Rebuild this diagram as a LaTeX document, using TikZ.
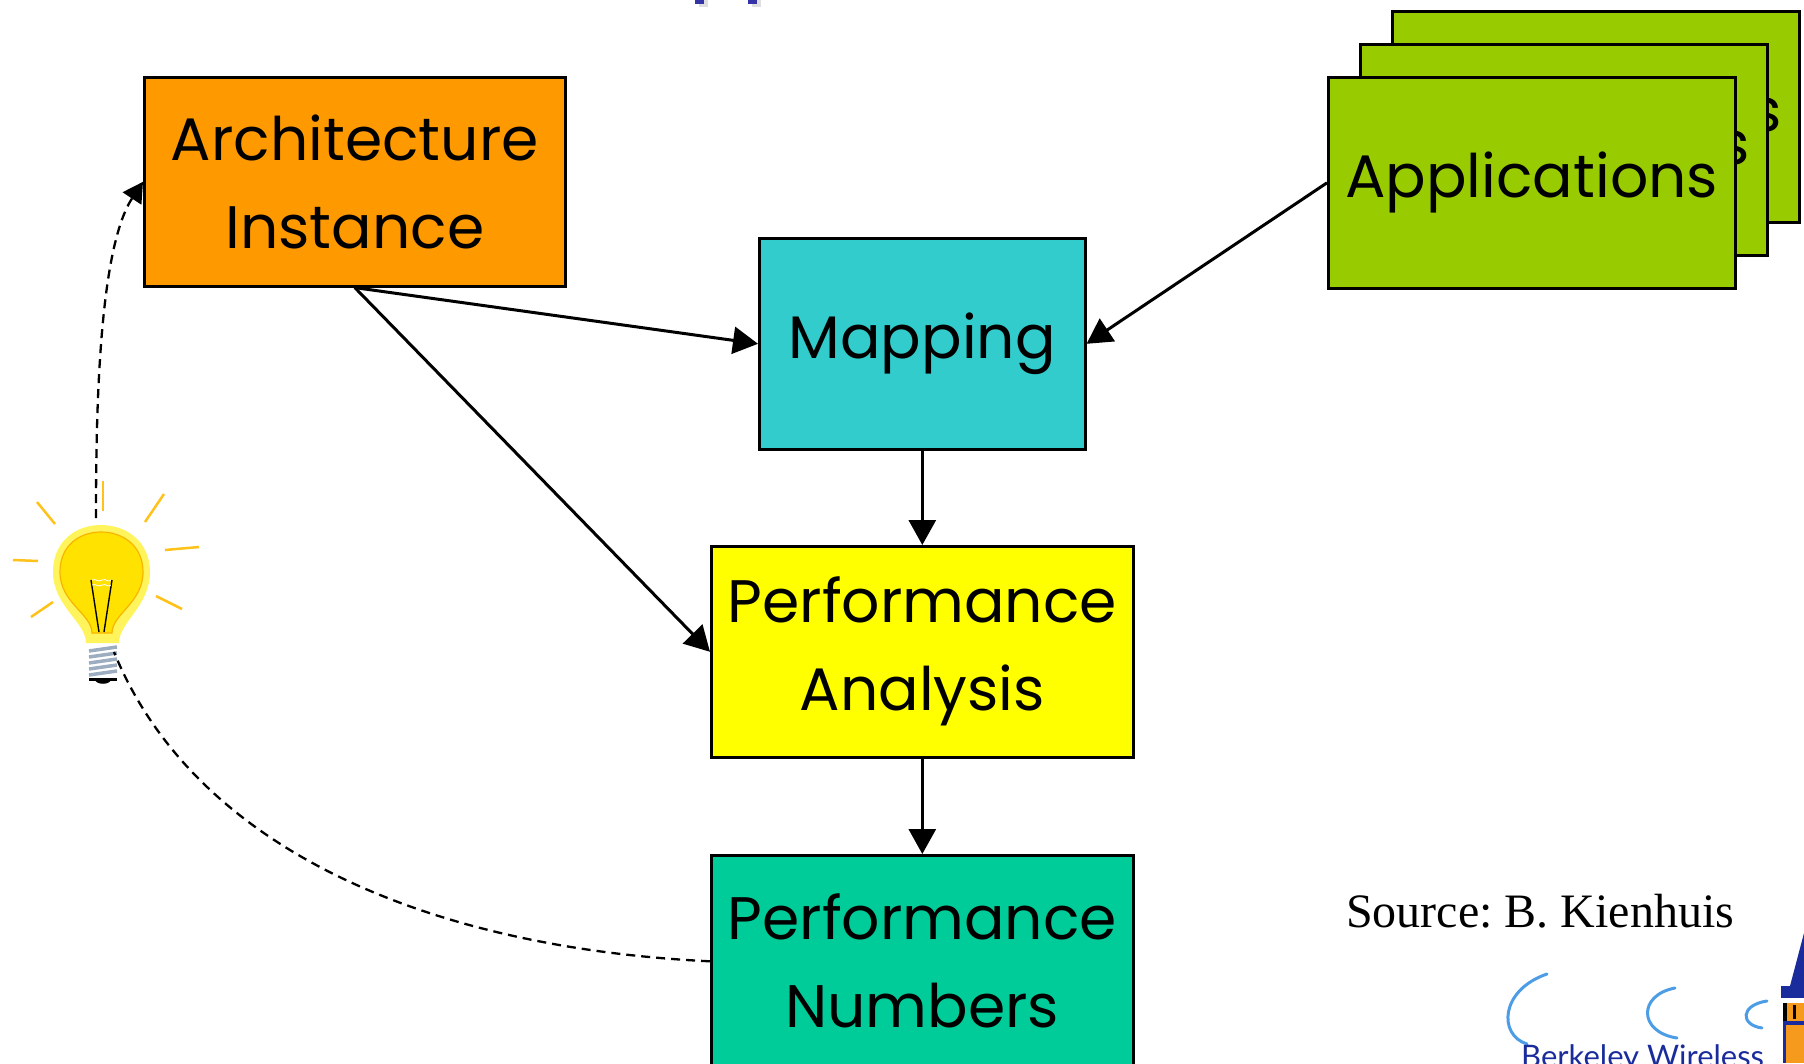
\documentclass[tikz,border=0pt]{standalone}
\usepackage{fontspec}
\setmainfont{Poppins}
\newfontfamily\srcfont{Liberation Serif}
\newfontfamily\logofont{Lato}
\usetikzlibrary{arrows.meta}
\frenchspacing

\definecolor{archorange}{HTML}{FF9900}
\definecolor{mapcyan}{HTML}{33CCCC}
\definecolor{perfyellow}{HTML}{FFFF00}
\definecolor{numgreen}{HTML}{00CC99}
\definecolor{appgreen}{HTML}{99CC00}
\definecolor{rayorange}{HTML}{FFC21A}
\definecolor{halo}{HTML}{FFF45C}
\definecolor{glass}{HTML}{FFE200}
\definecolor{glassedge}{HTML}{F7B500}
\definecolor{screw}{HTML}{9CADC2}
\definecolor{crescent}{HTML}{4D9DE6}
\definecolor{logoblue}{HTML}{1A2C9C}
\definecolor{titleblue}{HTML}{3434A8}
\definecolor{towerorange}{HTML}{F59A1C}

\begin{document}
\begin{tikzpicture}[x=1pt,y=-1pt,
  box/.style={draw=black, line width=2.6pt, inner sep=0pt, align=center,
    font=\fontsize{60}{88}\selectfont, anchor=north west},
  flow/.style={line width=3pt, -{Triangle[length=25pt,width=27pt]}},
  hint/.style={line width=2.3pt, dash pattern=on 9pt off 6pt},
  ray/.style={draw=rayorange, line width=2.5pt}]
\useasboundingbox (0,0) rectangle (1804,1063);
\begin{scope}
\clip (0,0) rectangle (1804,1063);

% fragments of the title above the picture
\fill[gray!25] (699,0) rectangle (708,7);
\fill[titleblue] (695,0) rectangle (704,4);
\fill[gray!25] (752,0) rectangle (761,7);
\fill[titleblue] (748,0) rectangle (757,4);

% blocks of the design flow
\node[box, fill=archorange, minimum width=421pt, minimum height=209pt]
  (arch) at (143,76) {Architecture\\Instance};
\node[box, fill=mapcyan, minimum width=326pt, minimum height=211pt]
  (map) at (758,237) {Mapping};
\node[box, fill=perfyellow, minimum width=422pt, minimum height=211pt]
  (pa) at (710,545) {Performance\\Analysis};
\node[box, fill=numgreen, minimum width=422pt, minimum height=212pt]
  (pn) at (710,854) {Performance\\Numbers};

% stack of application cards, back to front
\node[box, fill=appgreen, minimum width=407pt, minimum height=211pt]
  (apps3) at (1391,10) {Applications};
\node[box, fill=appgreen, minimum width=407pt, minimum height=211pt]
  (apps2) at (1359,43) {Applications};
\node[box, fill=appgreen, minimum width=407pt, minimum height=211pt]
  (apps) at (1327,76) {Applications};

% flow arrows
\draw[flow] (arch.south) -- (map.west);
\draw[flow] (arch.south) -- (pa.west);
\draw[flow] (apps.west) -- (map.east);
\draw[flow] (map.south) -- (pa.north);
\draw[flow] (pa.south) -- (pn.north);

% light bulb
\coordinate (bulbtop) at (96,518);
\coordinate (bulbbase) at (114,652);
\draw[ray] (37,502) -- (55,524);
\draw[ray] (103,481) -- (103,511);
\draw[ray] (164,494) -- (145,522);
\draw[ray] (165,550) -- (199,547);
\draw[ray] (156,596) -- (182,609);
\draw[ray] (13,560) -- (38,561);
\draw[ray] (31,617) -- (53,602);
\fill[halo] (86,643) .. controls (86,622) and (53,606) .. (53,572)
  .. controls (53,542) and (75,525) .. (101,525)
  .. controls (127,525) and (150,542) .. (150,572)
  .. controls (150,606) and (119,622) .. (119,643) -- cycle;
\filldraw[fill=glass, draw=glassedge, line width=1.2pt]
  (92,633) .. controls (92,614) and (60,603) .. (60,572)
  .. controls (60,545) and (80,532) .. (101,532)
  .. controls (122,532) and (143,545) .. (143,572)
  .. controls (143,603) and (112,614) .. (112,633) -- cycle;
\draw[line width=1.4pt] (91,580) -- (99,632) (112,580) -- (104,632);
\draw[white, line width=0.8pt] (92,580) .. controls (96,578) and (98,583) .. (102,580)
  .. controls (106,578) and (108,583) .. (111,580);
\draw[white, line width=0.8pt] (92,585) .. controls (96,583) and (98,588) .. (102,585)
  .. controls (106,583) and (108,588) .. (111,585);
\foreach \y in {649,655,661,667,673}
  \draw[screw, line width=3.5pt] (89,\y+2) -- (117,\y-2);
\draw[line width=3pt] (89,679) -- (117,679);
\fill (95,680) .. controls (97,685) and (109,685) .. (111,680) -- cycle;

% feedback from the numbers to a new architecture idea
\draw[hint] (pn.west) .. controls (430,948) and (195,850) .. (bulbbase);
\draw[hint, -{Triangle[length=20pt,width=22pt]}]
  (bulbtop) .. controls (96,420) and (98,250) .. (arch.west);

% credit line
\node[font=\srcfont\fontsize{48}{56}\selectfont, anchor=base west, inner sep=0pt]
  (src) at (1346,927) {Source: B. Kienhuis};

% Berkeley Wireless logo (lower right)
\draw[crescent, line width=3pt, line cap=round]
  (1547,974) .. controls (1500,990) and (1498,1035) .. (1527,1044);
\draw[crescent, line width=3pt, line cap=round]
  (1675,988) .. controls (1638,995) and (1638,1032) .. (1677,1038);
\draw[crescent, line width=3pt, line cap=round]
  (1767,1001) .. controls (1740,1005) and (1740,1025) .. (1762,1028);
\node[font=\logofont\fontsize{31}{36}\selectfont, text=logoblue, anchor=base west,
  inner sep=0pt] (logo) at (1521,1067) {Berkeley Wireless};
\fill[logoblue] (1790,986) -- (1804,933) -- (1804,986) -- cycle;
\fill[logoblue] (1781,986) rectangle (1804,998);
\fill[white] (1783,999) rectangle (1804,1002);
\fill[towerorange] (1783,1003) rectangle (1804,1021);
\fill[black] (1783,1003) rectangle (1787,1021);
\fill[black] (1793,1005) rectangle (1796,1019);
\fill[logoblue] (1783,1021) rectangle (1804,1025);
\fill[towerorange] (1786,1025) rectangle (1804,1063);
\fill[logoblue] (1783,1025) rectangle (1786,1063);
\end{scope}
\end{tikzpicture}
\end{document}
